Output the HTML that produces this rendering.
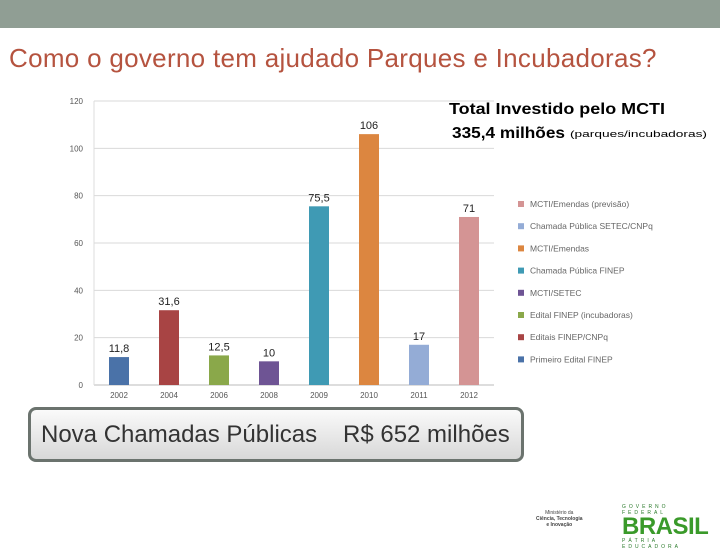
<!DOCTYPE html>
<html><head><meta charset="utf-8"><style>
body{margin:0;width:720px;height:540px;overflow:hidden;background:#fff;font-family:"Liberation Sans",sans-serif;position:relative}
#hdr{position:absolute;left:0;top:0;width:720px;height:28px;background:#909e94}
#title{position:absolute;left:9px;top:43px;font-size:26px;color:#b5533f;letter-spacing:0.3px;white-space:nowrap}
#box{position:absolute;left:28px;top:407px;width:490px;height:49px;border:3px solid #6b736e;border-radius:8px;background:linear-gradient(#fafafa,#d8d8d8);font-size:24px;color:#333;line-height:49px;box-sizing:content-box}
</style></head><body>
<div id="hdr"></div>
<div id="title">Como o governo tem ajudado Parques e Incubadoras?</div>
<svg id="chart" width="720" height="540" style="position:absolute;left:0;top:0"></svg>
<div id="box"><span style="position:absolute;left:10px">Nova Chamadas Públicas</span><span style="position:absolute;left:312px">R$ 652 milhões</span></div>
<div style="position:absolute;left:536px;top:510px;font-size:5px;color:#444;text-align:center;line-height:6px">Ministério da<br><b>Ciência, Tecnologia<br>e Inovação</b></div>
<div style="position:absolute;left:622px;top:504px;width:94px;font-size:5px;letter-spacing:3px;color:#2a7a2a;line-height:6px">GOVERNO FEDERAL<div style="font:bold 24px 'Liberation Sans',sans-serif;color:#3a9a2a;letter-spacing:-0.5px;line-height:22px">BRASIL</div>PÁTRIA EDUCADORA</div>
<script>
const categories=["2002","2004","2006","2008","2009","2010","2011","2012"];
const values=[11.8,31.6,12.5,10,75.5,106,17,71];
const labels=["11,8","31,6","12,5","10","75,5","106","17","71"];
const colors=["#4a72a8","#a84444","#8aa84a","#6e5494","#3f9ab4","#dc8640","#94acd6","#d49494"];
const yTicks=[0,20,40,60,80,100,120];
const legend=["MCTI/Emendas (previsão)","Chamada Pública SETEC/CNPq","MCTI/Emendas","Chamada Pública FINEP","MCTI/SETEC","Edital FINEP (incubadoras)","Editais FINEP/CNPq","Primeiro Edital FINEP"];
const legendColors=["#d49494","#94acd6","#dc8640","#3f9ab4","#6e5494","#8aa84a","#a84444","#4a72a8"];
const NS="http://www.w3.org/2000/svg";
const svg=document.getElementById('chart');
const x0=94,x1=494,yb=385,yt=101,ymax=120;
const y=v=>yb-(v/ymax)*(yb-yt);
const band=(x1-x0)/categories.length;
const xc=i=>x0+band*(i+0.5);
function mk(t,a){const e=document.createElementNS(NS,t);for(const k in a)e.setAttribute(k,a[k]);svg.appendChild(e);return e;}
yTicks.forEach(t=>{
 if(t>0){const g=mk('line',{x1:x0,x2:x1,y1:y(t),y2:y(t),stroke:'#d9d9d9','stroke-width':1});
 
 }
 const l=mk('text',{x:83,y:y(t)+3,'text-anchor':'end','font-size':8,fill:'#555'});l.textContent=t;
 
 
});
const ax=mk('line',{x1:x0,x2:x1,y1:yb,y2:yb,stroke:'#bbb'});


const ay=mk('line',{x1:x0,x2:x0,y1:yt,y2:yb,stroke:'#ddd'});


categories.forEach((c,i)=>{
 const bw=20;
 const r=mk('rect',{x:xc(i)-bw/2,y:y(values[i]),width:bw,height:yb-y(values[i]),fill:colors[i]});
 
 
 const v=mk('text',{x:xc(i),y:y(values[i])-5,'text-anchor':'middle','font-size':11,fill:'#222'});v.textContent=labels[i];
 
 
 const t=mk('text',{x:xc(i),y:398,'text-anchor':'middle','font-size':8,fill:'#555'});t.textContent=c;
 
 
});
legend.forEach((s,i)=>{
 const ly=204+i*22.2;
 const q=mk('rect',{x:518,y:ly-3,width:6,height:6,fill:legendColors[i]});
 
 
 const t=mk('text',{x:530,y:ly+3,'font-size':8.5,fill:'#666'});t.textContent=s;
 
 
});
const a=mk('text',{x:449,y:114,'font-size':16,'font-weight':'bold',fill:'#000',textLength:216,lengthAdjust:'spacingAndGlyphs'});a.textContent="Total Investido pelo MCTI";


const b=mk('text',{x:452,y:138,'font-size':16,'font-weight':'bold',fill:'#000',textLength:113,lengthAdjust:'spacingAndGlyphs'});b.textContent="335,4 milhões";


const c2=mk('text',{x:570,y:137,'font-size':9,fill:'#000',textLength:137,lengthAdjust:'spacingAndGlyphs'});c2.textContent="(parques/incubadoras)";


</script>
</body></html>
